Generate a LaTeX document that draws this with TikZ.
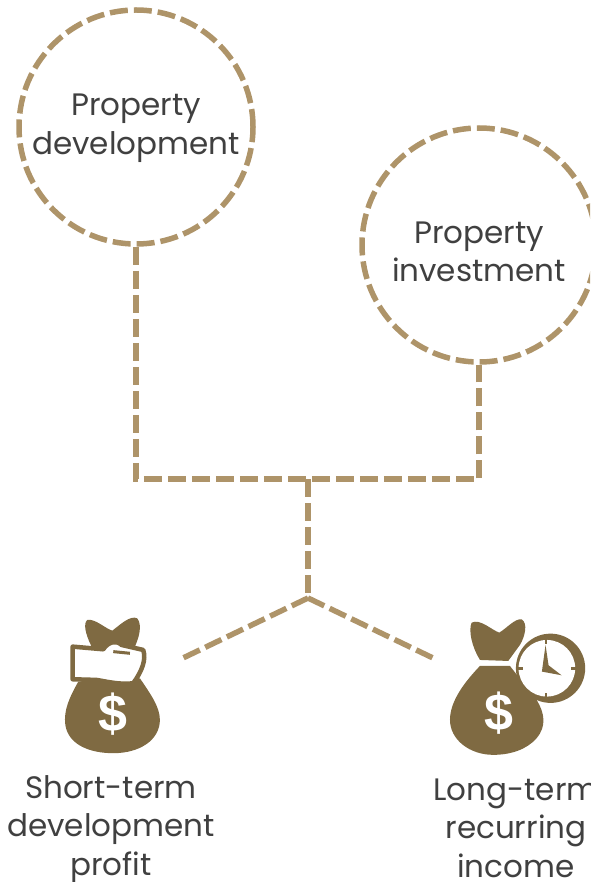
\documentclass[tikz,border=0pt]{standalone}
\usepackage{fontspec}
\setmainfont{Poppins}
\newfontfamily\dollarfont{Liberation Sans}
\definecolor{dashcol}{HTML}{AE9469}
\definecolor{iconcol}{HTML}{7F6A42}
\definecolor{txtcol}{HTML}{404040}
\tikzset{
  dashline/.style={draw=dashcol,line width=5.5pt,dash pattern=on 18pt off 6pt},
  ring/.style={circle,dashline,minimum size=234pt,inner sep=0pt},
  lbl/.style={text=txtcol,align=center,font=\fontsize{31}{38.5}\selectfont,inner sep=0pt},
  dollar/.style={text=white,font=\dollarfont\bfseries\fontsize{52}{52}\selectfont,inner sep=0pt}
}
\begin{document}
\begin{tikzpicture}[x=1pt,y=-1pt]
\useasboundingbox (0,0) rectangle (590,882);
\clip (0,0) rectangle (590,882);
\node[ring] (dev) at (136,127) {};
\node[ring] (inv) at (479,245) {};
\node[lbl] (devt) at (136,128) {Property\\development};
\node[lbl] (invt) at (479,252) {Property\\investment};
\coordinate (cl) at (136,479);
\coordinate (cr) at (479,479);
\coordinate (top) at (308,479);
\coordinate (fork) at (308,598);
\coordinate (el) at (183,658);
\coordinate (er) at (433,658);
\draw[dashline,line join=miter] (dev.south) -- (cl) -- (cr) -- (inv.south);
\draw[dashline] (top) -- (fork);
\draw[dashline] (fork) -- (el);
\draw[dashline] (fork) -- (er);
% left bag
\begin{scope}[shift={(50,600)},x=0.333pt,y=-0.333pt]
\fill[iconcol] (125,140) .. controls (105,100) and (100,70) .. (112,60) .. controls (135,55) and (165,85) .. (187,92) .. controls (210,75) and (240,45) .. (262,55) .. controls (278,75) and (268,115) .. (250,150) -- cycle;
\fill[iconcol] (85,245) .. controls (60,290) and (40,330) .. (46,375) .. controls (55,435) and (120,460) .. (190,460) .. controls (270,460) and (330,420) .. (330,360) .. controls (330,320) and (300,280) .. (270,235) -- cycle;
\filldraw[fill=white,draw=iconcol,line width=4.5pt,line join=round] (68,140) -- (160,148) .. controls (175,125) and (200,120) .. (215,135) -- (280,150) .. controls (290,180) and (275,215) .. (250,250) .. controls (210,255) and (170,245) .. (140,240) -- (68,238) -- cycle;
\draw[iconcol,line width=3pt] (190,155) -- (240,160);
\end{scope}
\node[dollar] (d1) at (113,714) {\$};
% right bag
\begin{scope}[shift={(430,600)},x=0.333pt,y=-0.333pt]
\fill[iconcol] (150,180) .. controls (125,140) and (115,90) .. (125,68) .. controls (150,55) and (185,90) .. (208,98) .. controls (230,85) and (255,55) .. (275,58) .. controls (295,70) and (285,110) .. (270,135) -- (235,183) -- cycle;
\fill[iconcol] (150,198) -- (240,198) -- (320,300) .. controls (345,340) and (350,380) .. (320,415) .. controls (290,450) and (240,465) .. (190,465) .. controls (120,465) and (60,420) .. (60,360) .. controls (60,300) and (110,240) .. (150,198) -- cycle;
\fill[iconcol] (362,205) circle (104);
\fill[white] (351,205) circle (85);
\fill[iconcol] (347,135) -- (336,215) -- (395,226) -- (356,196) -- cycle;
\fill[iconcol] (344,118) rectangle (352,132);
\fill[iconcol] (344,278) rectangle (352,292);
\fill[iconcol] (264,201) rectangle (278,209);
\fill[iconcol] (424,201) rectangle (438,209);
\end{scope}
\node[dollar] (d2) at (499,713) {\$};
\node[lbl] (l1) at (111,829.5) {Short-term\\development\\profit};
\node[lbl] (l2) at (516,828) {Long-term\\recurring\\income};
\end{tikzpicture}
\end{document}
